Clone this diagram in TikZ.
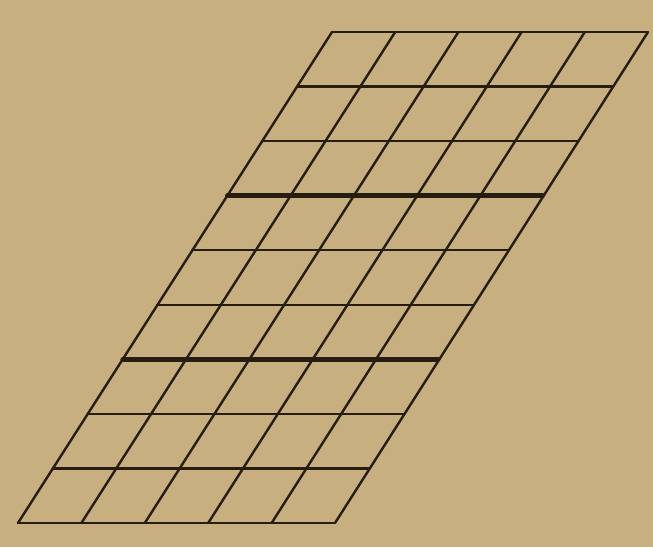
\documentclass[tikz,border=0pt]{standalone}
\definecolor{paper}{RGB}{200,175,128}
\definecolor{ink}{RGB}{38,28,16}
\begin{document}
\begin{tikzpicture}[x=0.5pt,y=-0.5pt,line cap=round]
\fill[paper] (0,0) rectangle (653,547);
\useasboundingbox (0,0) rectangle (653,547);
% horizontal rulings
\foreach \i in {0,...,9}
  \draw[ink,line width=1.2pt] (332-34.9*\i,32+54.56*\i) -- ++(315.5,0);
\foreach \i in {3,6}
  \draw[ink,line width=2.2pt] (332-34.9*\i,32+54.56*\i) -- ++(315.5,0);
% slanted rulings
\foreach \j in {0,...,5}
  \draw[ink,line width=1.2pt] (332+63.2*\j,32) -- (18+63.4*\j,523);
\end{tikzpicture}
\end{document}
